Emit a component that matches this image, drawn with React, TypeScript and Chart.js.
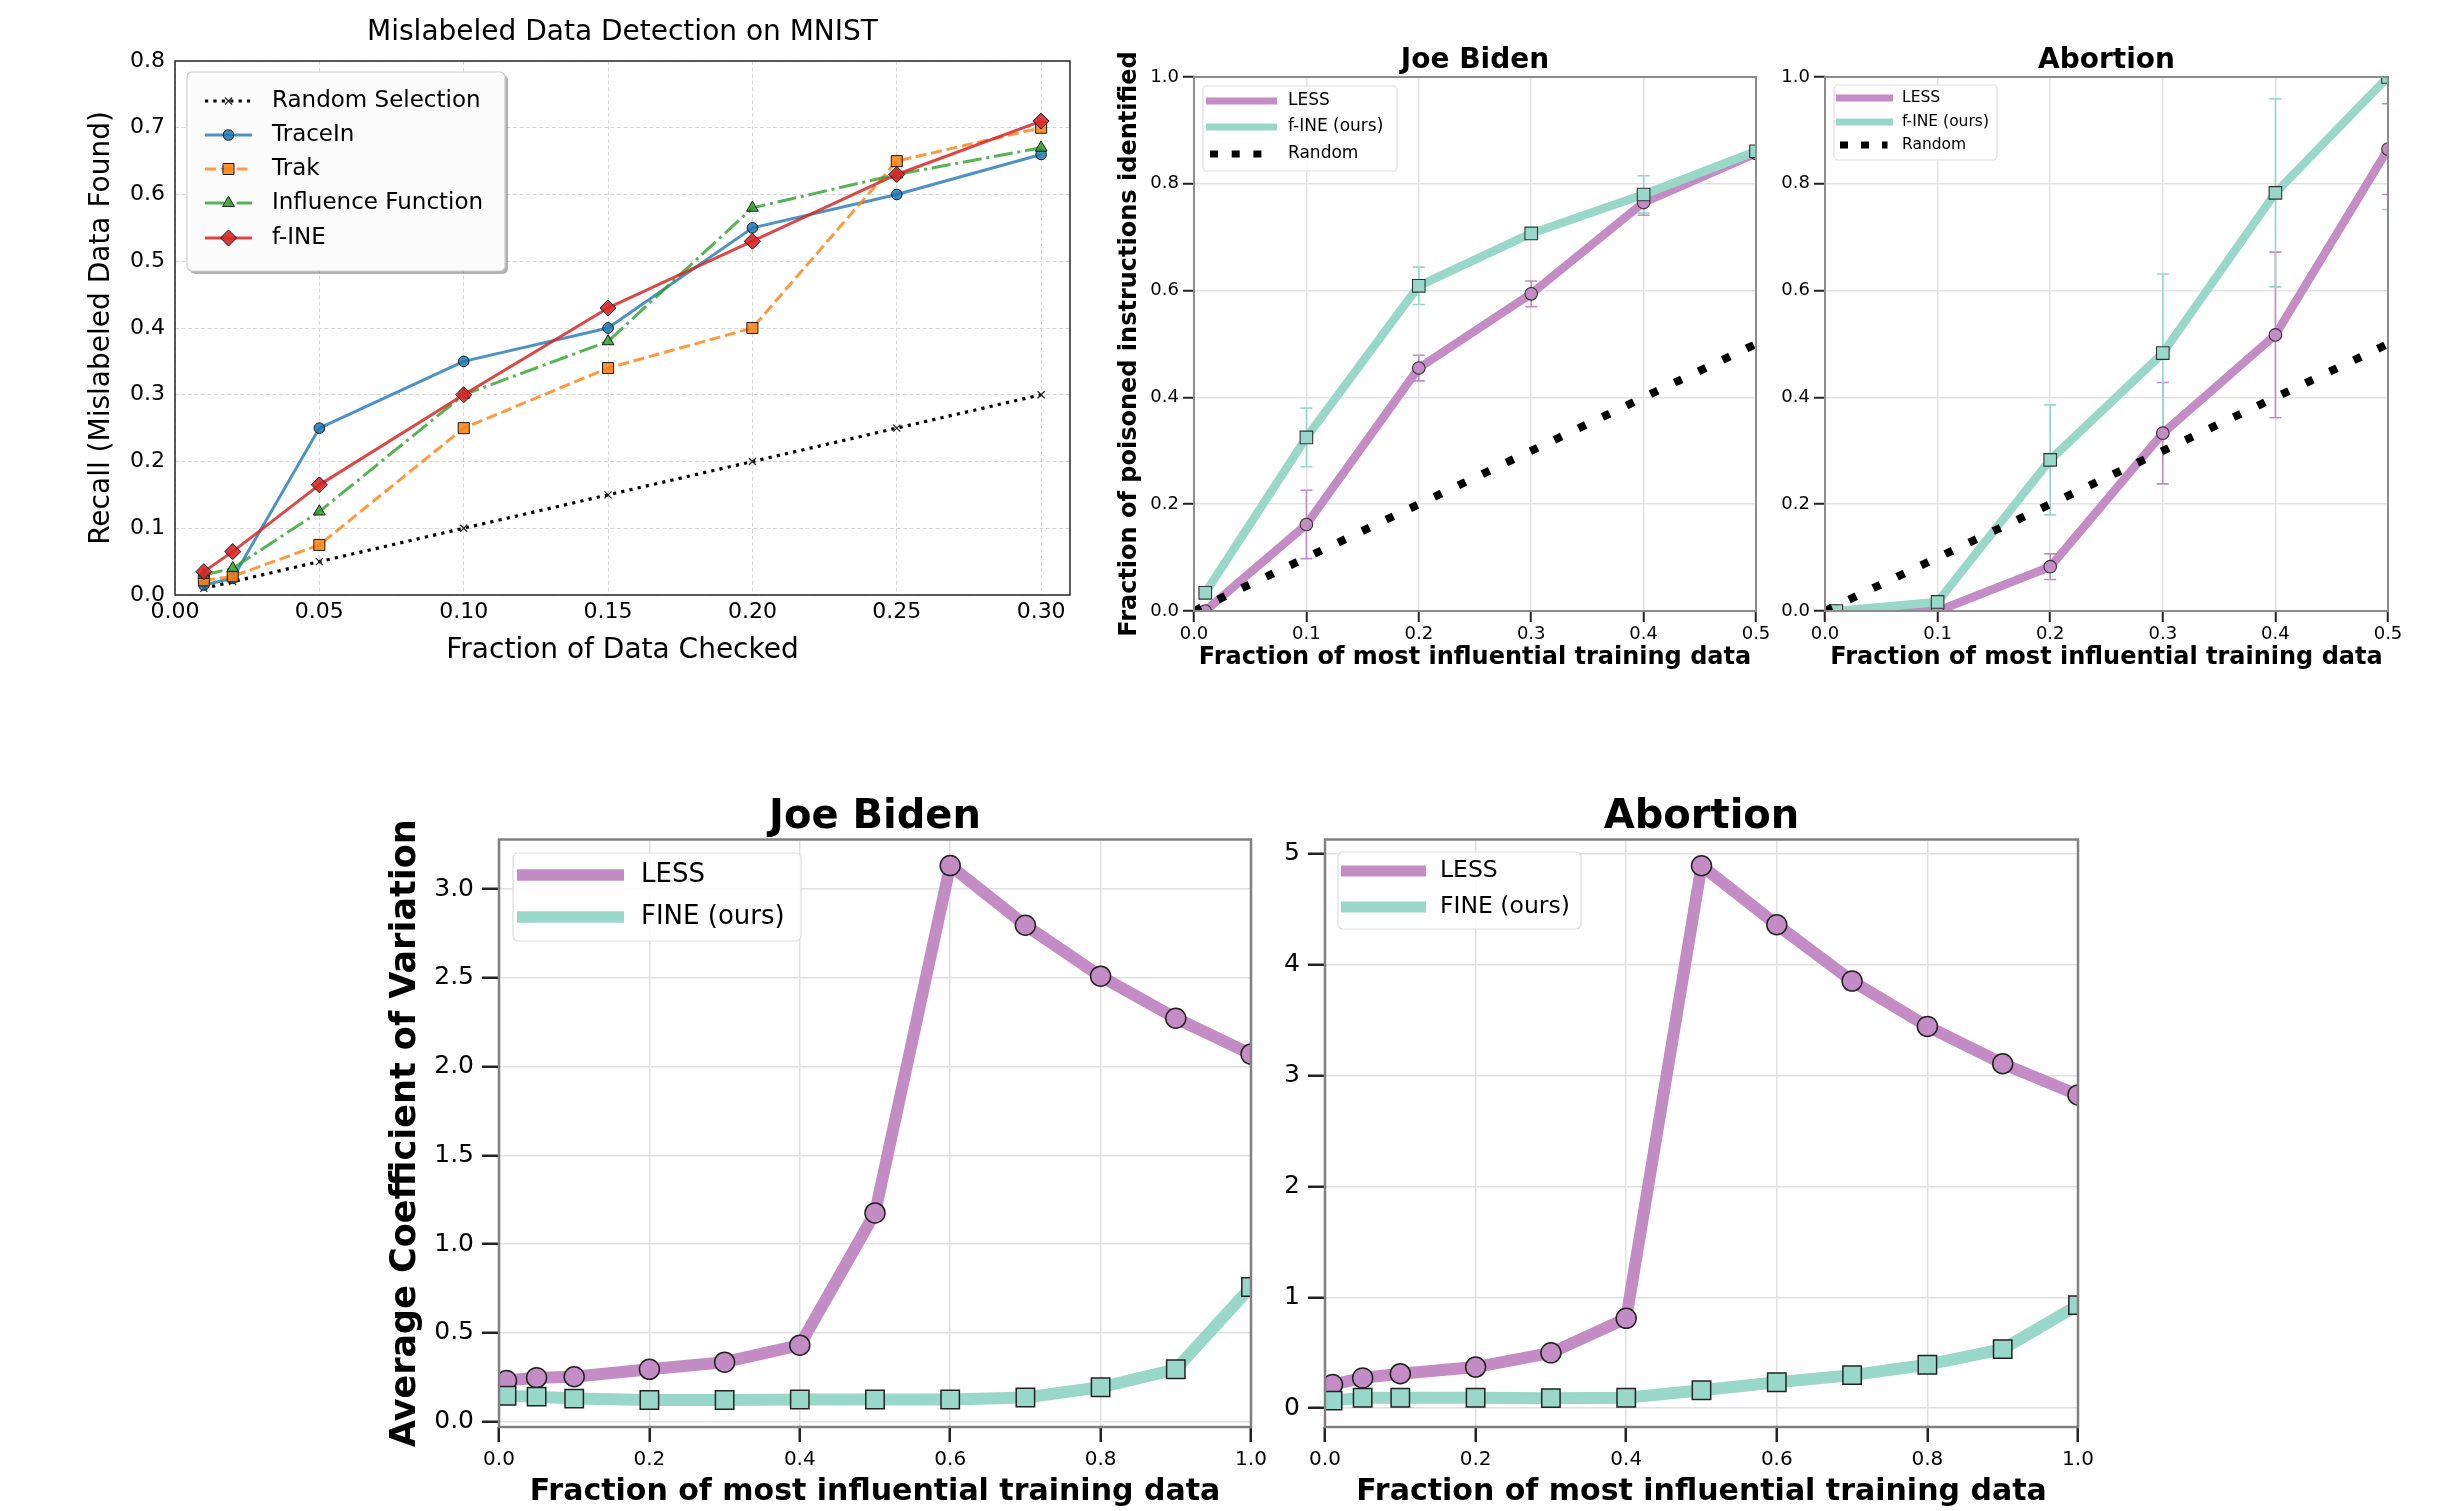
import React, { useEffect, useRef } from "react";
import { Chart, registerables } from "chart.js";

Chart.register(...registerables);

const FONT = "'DejaVu Sans', 'Noto Sans', sans-serif";

// ---------------- Mislabeled data detection on MNIST ----------------
const mnistX = [0.01, 0.02, 0.05, 0.1, 0.15, 0.2, 0.25, 0.3];
const mnistRandom = [0.01, 0.02, 0.05, 0.1, 0.15, 0.2, 0.25, 0.3];
const mnistTraceIn = [0.015, 0.025, 0.25, 0.35, 0.4, 0.55, 0.6, 0.66];
const mnistTrak = [0.022, 0.028, 0.075, 0.25, 0.34, 0.4, 0.65, 0.7];
const mnistInfluence = [0.03, 0.04, 0.125, 0.3, 0.38, 0.58, 0.63, 0.67];
const mnistFine = [0.035, 0.065, 0.165, 0.3, 0.43, 0.53, 0.63, 0.71];
const mnistXTicks = [0, 0.05, 0.1, 0.15, 0.2, 0.25, 0.3];
const mnistYTicks = [0, 0.1, 0.2, 0.3, 0.4, 0.5, 0.6, 0.7, 0.8];

// ---------------- Poisoned instruction identification ----------------
const poisonX = [0.01, 0.1, 0.2, 0.3, 0.4, 0.5];
const randomX = [0, 0.1, 0.2, 0.3, 0.4, 0.5];
const randomY = [0, 0.1, 0.2, 0.3, 0.4, 0.5];
const bidenLess = [0.0, 0.162, 0.455, 0.594, 0.765, 0.857];
const bidenLessErr = [0, 0.064, 0.024, 0.024, 0.024, 0];
const bidenFine = [0.034, 0.325, 0.609, 0.707, 0.78, 0.861];
const bidenFineErr = [0, 0.055, 0.035, 0, 0.035, 0];
const abortionLess = [0.0, 0.0, 0.083, 0.333, 0.517, 0.865];
const abortionLessErr = [0, 0, 0.024, 0.095, 0.155, 0.085];
const abortionFine = [0.0, 0.017, 0.283, 0.483, 0.783, 1.0];
const abortionFineErr = [0, 0, 0.103, 0.148, 0.176, 0.248];
const poisonXTicks = [0, 0.1, 0.2, 0.3, 0.4, 0.5];
const poisonYTicks = [0, 0.2, 0.4, 0.6, 0.8, 1.0];

// ---------------- Average coefficient of variation ----------------
const covX = [0.01, 0.05, 0.1, 0.2, 0.3, 0.4, 0.5, 0.6, 0.7, 0.8, 0.9, 1.0];
const covBidenLess = [0.232, 0.248, 0.253, 0.295, 0.335, 0.431, 1.176, 3.133, 2.797, 2.51, 2.273, 2.071];
const covBidenFine = [0.146, 0.141, 0.13, 0.122, 0.122, 0.125, 0.125, 0.125, 0.136, 0.194, 0.295, 0.759];
const covAbortionLess = [0.213, 0.273, 0.311, 0.371, 0.499, 0.81, 4.893, 4.361, 3.853, 3.444, 3.107, 2.826];
const covAbortionFine = [0.068, 0.094, 0.094, 0.094, 0.09, 0.094, 0.162, 0.234, 0.298, 0.392, 0.533, 0.929];
const covXTicks = [0, 0.2, 0.4, 0.6, 0.8, 1.0];
const covBidenYTicks = [0, 0.5, 1.0, 1.5, 2.0, 2.5, 3.0];
const covAbortionYTicks = [0, 1, 2, 3, 4, 5];

const LESS_COLOR = "#c38cc4";
const FINE_COLOR = "#99d8c9";

const pts = (xs: number[], ys: number[]) => xs.map((x, i) => ({ x, y: ys[i] }));

function roundRect(ctx: CanvasRenderingContext2D, x: number, y: number, w: number, h: number, r: number) {
  ctx.beginPath();
  ctx.moveTo(x + r, y);
  ctx.lineTo(x + w - r, y);
  ctx.arcTo(x + w, y, x + w, y + r, r);
  ctx.lineTo(x + w, y + h - r);
  ctx.arcTo(x + w, y + h, x + w - r, y + h, r);
  ctx.lineTo(x + r, y + h);
  ctx.arcTo(x, y + h, x, y + h - r, r);
  ctx.lineTo(x, y + r);
  ctx.arcTo(x, y, x + r, y, r);
  ctx.closePath();
}

function drawMarker(ctx: CanvasRenderingContext2D, style: string, x: number, y: number, r: number, fill: string, stroke: string, lw: number) {
  ctx.save();
  ctx.setLineDash([]);
  ctx.beginPath();
  if (style === "circle") {
    ctx.arc(x, y, r, 0, Math.PI * 2);
  } else if (style === "rect") {
    const s = r * Math.SQRT1_2;
    ctx.rect(x - s, y - s, 2 * s, 2 * s);
  } else if (style === "rectRot") {
    ctx.moveTo(x - r, y);
    ctx.lineTo(x, y - r);
    ctx.lineTo(x + r, y);
    ctx.lineTo(x, y + r);
    ctx.closePath();
  } else if (style === "triangle") {
    ctx.moveTo(x, y - r);
    ctx.lineTo(x + r * Math.sin((2 * Math.PI) / 3), y - r * Math.cos((2 * Math.PI) / 3));
    ctx.lineTo(x + r * Math.sin((4 * Math.PI) / 3), y - r * Math.cos((4 * Math.PI) / 3));
    ctx.closePath();
  } else if (style === "crossRot") {
    const d = r * Math.SQRT1_2;
    ctx.moveTo(x - d, y - d);
    ctx.lineTo(x + d, y + d);
    ctx.moveTo(x + d, y - d);
    ctx.lineTo(x - d, y + d);
    ctx.strokeStyle = stroke;
    ctx.lineWidth = lw;
    ctx.stroke();
    ctx.restore();
    return;
  }
  ctx.fillStyle = fill;
  ctx.fill();
  ctx.strokeStyle = stroke;
  ctx.lineWidth = lw;
  ctx.stroke();
  ctx.restore();
}

const errorBarPlugin = {
  id: "errorBars",
  beforeDatasetsDraw(chart: any) {
    const { ctx, chartArea } = chart;
    const xs = chart.scales.x;
    const ys = chart.scales.y;
    ctx.save();
    ctx.beginPath();
    ctx.rect(chartArea.left, chartArea.top, chartArea.right - chartArea.left, chartArea.bottom - chartArea.top);
    ctx.clip();
    chart.data.datasets.forEach((ds: any) => {
      if (!ds.errors) return;
      ctx.strokeStyle = ds.errorColor || ds.borderColor;
      ctx.lineWidth = 1.6;
      ds.data.forEach((pt: any, j: number) => {
        const e = ds.errors[j];
        if (!e) return;
        const px = xs.getPixelForValue(pt.x);
        const y1 = ys.getPixelForValue(pt.y - e);
        const y2 = ys.getPixelForValue(pt.y + e);
        const cap = 6;
        ctx.beginPath();
        ctx.moveTo(px, y1);
        ctx.lineTo(px, y2);
        ctx.moveTo(px - cap, y1);
        ctx.lineTo(px + cap, y1);
        ctx.moveTo(px - cap, y2);
        ctx.lineTo(px + cap, y2);
        ctx.stroke();
      });
    });
    ctx.restore();
  },
};

const framePlugin = {
  id: "frame",
  afterDraw(chart: any, _args: any, opts: any) {
    const { ctx, chartArea: c } = chart;
    ctx.save();
    ctx.strokeStyle = opts.color;
    ctx.lineWidth = opts.width;
    ctx.strokeRect(c.left, c.top, c.right - c.left, c.bottom - c.top);
    ctx.restore();
  },
};

const legendPlugin = {
  id: "panelLegend",
  afterDraw(chart: any, _args: any, opts: any) {
    if (!opts || !opts.entries) return;
    const ctx: CanvasRenderingContext2D = chart.ctx;
    const [bx, by, bw, bh] = opts.box;
    ctx.save();
    if (opts.shadow) {
      ctx.fillStyle = "rgba(0,0,0,0.3)";
      roundRect(ctx, bx + 3, by + 3, bw, bh, opts.radius);
      ctx.fill();
    }
    roundRect(ctx, bx, by, bw, bh, opts.radius);
    ctx.fillStyle = opts.background;
    ctx.fill();
    ctx.lineWidth = 1.2;
    ctx.strokeStyle = opts.borderColor;
    ctx.stroke();
    ctx.font = `${opts.fontSize}px ${FONT}`;
    ctx.textBaseline = "middle";
    ctx.textAlign = "left";
    opts.entries.forEach((e: any) => {
      const ds = chart.data.datasets[e.dataset];
      ctx.save();
      ctx.strokeStyle = ds.borderColor;
      ctx.lineWidth = opts.lineWidth || ds.borderWidth;
      ctx.setLineDash(e.dash || ds.borderDash || []);
      ctx.lineCap = "butt";
      const x0 = e.x0 !== undefined ? e.x0 : opts.x0;
      const x1 = e.x1 !== undefined ? e.x1 : opts.x1;
      ctx.beginPath();
      ctx.moveTo(x0, e.y);
      ctx.lineTo(x1, e.y);
      ctx.stroke();
      ctx.restore();
      if (opts.markers && ds.pointStyle) {
        drawMarker(ctx, ds.pointStyle, (opts.x0 + opts.x1) / 2, e.y, ds.pointRadius, ds.pointBackgroundColor, ds.pointBorderColor, ds.pointBorderWidth);
      }
      ctx.fillStyle = "#000";
      ctx.fillText(ds.label, opts.textX, e.y);
    });
    ctx.restore();
  },
};

type Panel = {
  left: number; top: number; width: number; height: number;
  area: { l: number; t: number; r: number; b: number };
  xMin: number; xMax: number; yMin: number; yMax: number;
  xTicks: number[]; xDec: number; yTicks: number[]; yDec: number;
  title: { text: string; size: number; weight: string; cy: number };
  yTitle?: { text: string; size: number; weight: string; cx: number };
  xTitle: { text: string; size: number; weight: string; cy: number };
  xTickFont: number; yTickFont: number;
  drawTicks: boolean; xTickLen: number; yTickLen: number; tickWidth: number; tickColor: string;
  xTickPad: number; yTickPad: number;
  gridColor: string; gridWidth: number; gridDash: number[];
  frameColor: string; frameWidth: number;
  legend: any;
};

function makeConfig(p: Panel, datasets: any[]) {
  const ox = p.left;
  const oy = p.top;
  const yWidth = p.area.l - ox;
  const xHeight = oy + p.height - p.area.b;
  const padRight = ox + p.width - p.area.r;
  const tSize = p.title.size;
  const tPadTop = p.title.cy - oy - tSize / 2;
  const tPadBottom = p.area.t - oy - tSize - tPadTop;
  const xtLH = p.xTitle.size * 1.2;
  const xtPadBottom = oy + p.height - p.xTitle.cy - xtLH / 2;
  const ytLH = p.yTitle ? p.yTitle.size * 1.2 : 0;
  const ytPadTop = p.yTitle ? p.yTitle.cx - ox - ytLH / 2 : 0;
  const L = p.legend;
  const legend = {
    box: [L.box[0] - ox, L.box[1] - oy, L.box[2], L.box[3]],
    radius: L.radius,
    shadow: L.shadow,
    background: L.background,
    borderColor: L.borderColor,
    fontSize: L.fontSize,
    lineWidth: L.lineWidth,
    markers: L.markers,
    x0: L.x0 - ox,
    x1: L.x1 - ox,
    textX: L.textX - ox,
    entries: L.entries.map((e: any) => ({
      dataset: e.dataset,
      y: e.y - oy,
      dash: e.dash,
      x0: e.x0 !== undefined ? e.x0 - ox : undefined,
      x1: e.x1 !== undefined ? e.x1 - ox : undefined,
    })),
  };
  return {
    type: "line",
    data: { datasets },
    plugins: [errorBarPlugin, framePlugin, legendPlugin],
    options: {
      animation: false,
      responsive: false,
      maintainAspectRatio: false,
      devicePixelRatio: 1,
      events: [],
      layout: { padding: { left: 0, top: 0, right: padRight, bottom: 0 } },
      elements: { line: { tension: 0 } },
      plugins: {
        legend: { display: false },
        tooltip: { enabled: false },
        title: {
          display: true,
          text: p.title.text,
          fullSize: false,
          color: "#000",
          font: { family: FONT, size: tSize, weight: p.title.weight, lineHeight: 1 },
          padding: { top: tPadTop, bottom: tPadBottom },
        },
        frame: { color: p.frameColor, width: p.frameWidth },
        panelLegend: legend,
      },
      scales: {
        x: {
          type: "linear",
          min: p.xMin,
          max: p.xMax,
          afterFit: (s: any) => {
            s.height = xHeight;
          },
          afterBuildTicks: (s: any) => {
            s.ticks = p.xTicks.map((v) => ({ value: v }));
          },
          ticks: {
            autoSkip: false,
            maxRotation: 0,
            minRotation: 0,
            padding: p.xTickPad,
            color: "#000",
            font: { family: FONT, size: p.xTickFont },
            callback: (v: any) => Number(v).toFixed(p.xDec),
          },
          grid: {
            color: p.gridColor,
            lineWidth: p.gridWidth,
            drawTicks: p.drawTicks,
            tickLength: p.xTickLen,
            tickColor: p.tickColor,
            tickWidth: p.tickWidth,
          },
          border: { display: false, dash: p.gridDash },
          title: {
            display: true,
            text: p.xTitle.text,
            color: "#000",
            font: { family: FONT, size: p.xTitle.size, weight: p.xTitle.weight, lineHeight: 1.2 },
            padding: { top: 0, bottom: xtPadBottom },
          },
        },
        y: {
          type: "linear",
          min: p.yMin,
          max: p.yMax,
          afterFit: (s: any) => {
            s.width = yWidth;
          },
          afterBuildTicks: (s: any) => {
            s.ticks = p.yTicks.map((v) => ({ value: v }));
          },
          ticks: {
            autoSkip: false,
            padding: p.yTickPad,
            color: "#000",
            font: { family: FONT, size: p.yTickFont },
            callback: (v: any) => Number(v).toFixed(p.yDec),
          },
          grid: {
            color: p.gridColor,
            lineWidth: p.gridWidth,
            drawTicks: p.drawTicks,
            tickLength: p.yTickLen,
            tickColor: p.tickColor,
            tickWidth: p.tickWidth,
          },
          border: { display: false, dash: p.gridDash },
          title: {
            display: !!p.yTitle,
            text: p.yTitle ? p.yTitle.text : "",
            color: "#000",
            font: { family: FONT, size: p.yTitle ? p.yTitle.size : 12, weight: p.yTitle ? p.yTitle.weight : "normal", lineHeight: 1.2 },
            padding: { top: ytPadTop, bottom: 0 },
          },
        },
      },
    },
  };
}

// ---------------- dataset builders ----------------
function mnistDatasets() {
  const base = { borderWidth: 3, pointBorderColor: "#1a1a1a", pointBorderWidth: 1, borderJoinStyle: "round", fill: false };
  return [
    { ...base, label: "Random Selection", data: pts(mnistX, mnistRandom), borderColor: "#000", borderWidth: 3.2, borderDash: [3.2, 5.2], borderCapStyle: "butt", pointStyle: "crossRot", pointRadius: 5, pointBackgroundColor: "#000", pointBorderColor: "#222", pointBorderWidth: 1.2, order: 4 },
    { ...base, label: "TraceIn", data: pts(mnistX, mnistTraceIn), borderColor: "rgba(31,119,180,0.8)", pointBackgroundColor: "rgba(31,119,180,0.85)", pointStyle: "circle", pointRadius: 5.3, order: 3 },
    { ...base, label: "Trak", data: pts(mnistX, mnistTrak), borderColor: "rgba(255,127,14,0.8)", borderDash: [11, 4.8], pointBackgroundColor: "rgba(255,127,14,0.85)", pointStyle: "rect", pointRadius: 7.8, order: 2 },
    { ...base, label: "Influence Function", data: pts(mnistX, mnistInfluence), borderColor: "rgba(44,160,44,0.8)", borderDash: [19, 4.8, 3, 4.8], pointBackgroundColor: "rgba(44,160,44,0.85)", pointStyle: "triangle", pointRadius: 6.8, order: 1 },
    { ...base, label: "f-INE", data: pts(mnistX, mnistFine), borderColor: "rgba(214,39,40,0.85)", pointBackgroundColor: "rgba(214,39,40,0.9)", pointStyle: "rectRot", pointRadius: 8, order: 0 },
  ];
}

function poisonDatasets(less: number[], lessErr: number[], fine: number[], fineErr: number[]) {
  return [
    { label: "LESS", data: pts(poisonX, less), borderColor: LESS_COLOR, borderWidth: 8.5, borderJoinStyle: "round", pointStyle: "circle", pointRadius: 6.3, pointBackgroundColor: LESS_COLOR, pointBorderColor: "#333", pointBorderWidth: 1.1, errors: lessErr, errorColor: LESS_COLOR, order: 2, clip: 0, fill: false },
    { label: "f-INE (ours)", data: pts(poisonX, fine), borderColor: FINE_COLOR, borderWidth: 8.5, borderJoinStyle: "round", pointStyle: "rect", pointRadius: 8.9, pointBackgroundColor: FINE_COLOR, pointBorderColor: "#333", pointBorderWidth: 1.1, errors: fineErr, errorColor: FINE_COLOR, order: 1, clip: 0, fill: false },
    { label: "Random", data: pts(randomX, randomY), borderColor: "#000", borderWidth: 8, borderDash: [8, 18.6], borderCapStyle: "butt", pointRadius: 0, order: 0, clip: 0, fill: false },
  ];
}

function covDatasets(less: number[], fine: number[]) {
  return [
    { label: "LESS", data: pts(covX, less), borderColor: LESS_COLOR, borderWidth: 12, borderJoinStyle: "round", pointStyle: "circle", pointRadius: 10, pointBackgroundColor: LESS_COLOR, pointBorderColor: "#222", pointBorderWidth: 1.5, order: 1, clip: 0, fill: false },
    { label: "FINE (ours)", data: pts(covX, fine), borderColor: FINE_COLOR, borderWidth: 12, borderJoinStyle: "round", pointStyle: "rect", pointRadius: 13, pointBackgroundColor: FINE_COLOR, pointBorderColor: "#222", pointBorderWidth: 1.5, order: 0, clip: 0, fill: false },
  ];
}

// ---------------- panels ----------------
const topStyle = {
  xTickFont: 18, yTickFont: 18, drawTicks: true, xTickLen: 11, yTickLen: 11, tickWidth: 2, tickColor: "#222",
  xTickPad: 2, yTickPad: 4, gridColor: "#e3e3e3", gridWidth: 1.5, gridDash: [] as number[],
  frameColor: "#8c8c8c", frameWidth: 2,
};
const bottomStyle = {
  xTickFont: 20, yTickFont: 25, drawTicks: true, xTickLen: 15, yTickLen: 17, tickWidth: 2.5, tickColor: "#222",
  xTickPad: 6, yTickPad: 8, gridColor: "#e0e0e0", gridWidth: 1.5, gridDash: [] as number[],
  frameColor: "#808080", frameWidth: 2.5,
};
const XLABEL = "Fraction of most influential training data";

const panelMnist: Panel = {
  left: 0, top: 0, width: 1110, height: 700,
  area: { l: 175, t: 61, r: 1070, b: 595 },
  xMin: 0, xMax: 0.31, yMin: 0, yMax: 0.8,
  xTicks: mnistXTicks, xDec: 2, yTicks: mnistYTicks, yDec: 1,
  title: { text: "Mislabeled Data Detection on MNIST", size: 28, weight: "normal", cy: 33 },
  yTitle: { text: "Recall (Mislabeled Data Found)", size: 28, weight: "normal", cx: 102 },
  xTitle: { text: "Fraction of Data Checked", size: 28, weight: "normal", cy: 651 },
  xTickFont: 22, yTickFont: 22, drawTicks: false, xTickLen: 0, yTickLen: 0, tickWidth: 1, tickColor: "#222",
  xTickPad: 4, yTickPad: 10, gridColor: "#d6d6d6", gridWidth: 1, gridDash: [4, 2.5],
  frameColor: "#262626", frameWidth: 1.5,
  legend: {
    box: [187, 72, 318, 199], radius: 5, shadow: true, background: "rgba(255,255,255,0.95)", borderColor: "#cccccc",
    fontSize: 23, markers: true, x0: 205, x1: 252, textX: 272,
    entries: [
      { dataset: 0, y: 101 },
      { dataset: 1, y: 135 },
      { dataset: 2, y: 169 },
      { dataset: 3, y: 203 },
      { dataset: 4, y: 238 },
    ],
  },
};

const panelBidenTop: Panel = {
  left: 1100, top: 0, width: 690, height: 700,
  area: { l: 1194, t: 77, r: 1756, b: 611 },
  xMin: 0, xMax: 0.5, yMin: 0, yMax: 1,
  xTicks: poisonXTicks, xDec: 1, yTicks: poisonYTicks, yDec: 1,
  title: { text: "Joe Biden", size: 28, weight: "bold", cy: 60.8 },
  yTitle: { text: "Fraction of poisoned instructions identified", size: 24, weight: "bold", cx: 1130 },
  xTitle: { text: XLABEL, size: 24, weight: "bold", cy: 657.7 },
  ...topStyle,
  legend: {
    box: [1203, 86, 194, 85], radius: 4, shadow: false, background: "rgba(255,255,255,0.9)", borderColor: "#dddddd",
    fontSize: 17, lineWidth: 7, markers: false, x0: 1206, x1: 1277, textX: 1288,
    entries: [
      { dataset: 0, y: 101 },
      { dataset: 1, y: 127 },
      { dataset: 2, y: 154, dash: [8, 13.7], x0: 1210, x1: 1262 },
    ],
  },
};

const panelAbortionTop: Panel = {
  left: 1760, top: 0, width: 678, height: 700,
  area: { l: 1825, t: 77, r: 2388, b: 611 },
  xMin: 0, xMax: 0.5, yMin: 0, yMax: 1,
  xTicks: poisonXTicks, xDec: 1, yTicks: poisonYTicks, yDec: 1,
  title: { text: "Abortion", size: 28, weight: "bold", cy: 60.8 },
  xTitle: { text: XLABEL, size: 24, weight: "bold", cy: 657.7 },
  ...topStyle,
  legend: {
    box: [1834, 85, 163, 75], radius: 4, shadow: false, background: "rgba(255,255,255,0.9)", borderColor: "#dddddd",
    fontSize: 15.5, lineWidth: 7, markers: false, x0: 1836, x1: 1893, textX: 1902,
    entries: [
      { dataset: 0, y: 98 },
      { dataset: 1, y: 122 },
      { dataset: 2, y: 145, dash: [8, 13], x0: 1840, x1: 1887.5 },
    ],
  },
};

const panelBidenCov: Panel = {
  left: 360, top: 760, width: 920, height: 751,
  area: { l: 499, t: 839.5, r: 1251, b: 1427 },
  xMin: 0, xMax: 1, yMin: -0.03, yMax: 3.28,
  xTicks: covXTicks, xDec: 1, yTicks: covBidenYTicks, yDec: 1,
  title: { text: "Joe Biden", size: 40, weight: "bold", cy: 818 },
  yTitle: { text: "Average Coefficient of Variation", size: 35, weight: "bold", cx: 406 },
  xTitle: { text: XLABEL, size: 30, weight: "bold", cy: 1492 },
  ...bottomStyle,
  legend: {
    box: [513, 853, 288, 88], radius: 5, shadow: false, background: "rgba(255,255,255,0.9)", borderColor: "#dddddd",
    fontSize: 26, lineWidth: 11.3, markers: false, x0: 517, x1: 624, textX: 641,
    entries: [
      { dataset: 0, y: 875 },
      { dataset: 1, y: 917 },
    ],
  },
};

const panelAbortionCov: Panel = {
  left: 1280, top: 760, width: 860, height: 751,
  area: { l: 1325, t: 839.5, r: 2078, b: 1427 },
  xMin: 0, xMax: 1, yMin: -0.17, yMax: 5.13,
  xTicks: covXTicks, xDec: 1, yTicks: covAbortionYTicks, yDec: 0,
  title: { text: "Abortion", size: 40, weight: "bold", cy: 818 },
  xTitle: { text: XLABEL, size: 30, weight: "bold", cy: 1492 },
  ...bottomStyle,
  legend: {
    box: [1338, 852, 243, 77], radius: 5, shadow: false, background: "rgba(255,255,255,0.9)", borderColor: "#dddddd",
    fontSize: 23.5, lineWidth: 11, markers: false, x0: 1341, x1: 1426, textX: 1440,
    entries: [
      { dataset: 0, y: 871 },
      { dataset: 1, y: 907 },
    ],
  },
};

function ChartPanel({ panel, datasets }: { panel: Panel; datasets: () => any[] }) {
  const ref = useRef<HTMLCanvasElement>(null);
  useEffect(() => {
    if (!ref.current) return;
    const chart = new Chart(ref.current, makeConfig(panel, datasets()) as any);
    return () => chart.destroy();
  }, []);
  return (
    <canvas
      ref={ref}
      width={panel.width}
      height={panel.height}
      style={{ position: "absolute", left: panel.left, top: panel.top, width: panel.width, height: panel.height }}
    />
  );
}

export default function App() {
  return (
    <div style={{ position: "absolute", left: 0, top: 0, width: 2438, height: 1511, background: "#fff", overflow: "hidden" }}>
      <ChartPanel panel={panelMnist} datasets={mnistDatasets} />
      <ChartPanel panel={panelBidenTop} datasets={() => poisonDatasets(bidenLess, bidenLessErr, bidenFine, bidenFineErr)} />
      <ChartPanel panel={panelAbortionTop} datasets={() => poisonDatasets(abortionLess, abortionLessErr, abortionFine, abortionFineErr)} />
      <ChartPanel panel={panelBidenCov} datasets={() => covDatasets(covBidenLess, covBidenFine)} />
      <ChartPanel panel={panelAbortionCov} datasets={() => covDatasets(covAbortionLess, covAbortionFine)} />
    </div>
  );
}
